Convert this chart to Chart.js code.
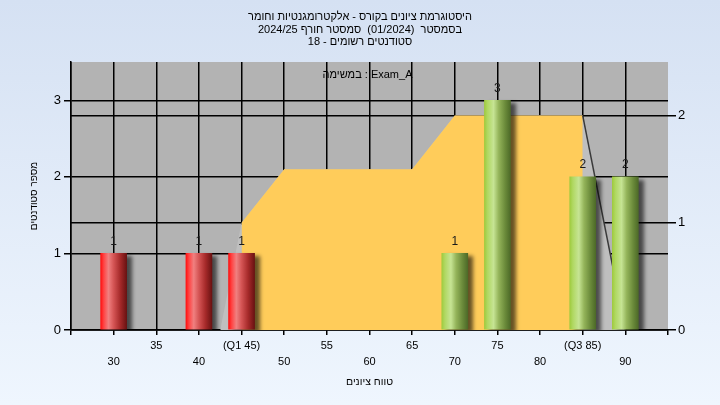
<!DOCTYPE html>
<html><head><meta charset="utf-8">
<script src="https://cdn.jsdelivr.net/npm/chart.js@4.4.1/dist/chart.umd.min.js"></script>
<style>html,body{margin:0;padding:0;background:#e2ebf8}canvas{display:block}</style>
</head><body>
<canvas id="c" width="720" height="405"></canvas>
<script>
const titleLines = [
  'היסטוגרמת ציונים בקורס - אלקטרומגנטיות וחומר',
  'בסמסטר  (01/2024)  סמסטר חורף 2024/25',
  'סטודנטים רשומים - 18'
];
const taskLabel = 'במשימה : Exam_A';
const xAxisTitle = 'טווח ציונים';
const yAxisTitle = 'מספר סטודנטים';

const lowScores = [30, 40, 45];
const lowCounts = [1, 1, 1];
const highScores = [70, 75, 85, 90];
const highCounts = [1, 3, 2, 2];

const curveScores = [42.5, 45, 50, 65, 70, 85, 90];
const curveValues = [0, 1, 1.5, 1.5, 2, 2, 0];
const iqrScores = [45, 45, 50, 65, 70, 85, 85];
const iqrValues = [0, 1, 1.5, 1.5, 2, 2, 0];
const tailScores = [85, 90];
const tailValues = [2, 0];

const xTickValues = [30, 35, 40, 45, 50, 55, 60, 65, 70, 75, 80, 85, 90];
const xTickLabels = ['30', '35', '40', '(Q1 45)', '50', '55', '60', '65', '70', '75', '80', '(Q3 85)', '90'];
const leftTicks = [0, 1, 2, 3];
const rightTicks = [0, 1, 2];

const pts = (xs, ys) => xs.map((x, i) => ({x: x, y: ys[i]}));

const redStops = [[0,'#ff1010'],[0.12,'#ff4444'],[0.3,'#f08080'],[0.5,'#d45454'],[0.75,'#a62a2a'],[1,'#6a1212']];
const greenStops = [[0,'#9fcb3e'],[0.12,'#b0d862'],[0.35,'#c6e494'],[0.55,'#94b45a'],[0.8,'#6a8a3a'],[1,'#4d6a28']];

function cylinder(stops) {
  return function (c) {
    const chart = c.chart;
    if (!chart.chartArea || c.type !== 'data' || !chart.scales.x) return stops[2][1];
    const cx = chart.scales.x.getPixelForValue(c.raw.x);
    const g = chart.ctx.createLinearGradient(cx - 13, 0, cx + 13, 0);
    stops.forEach(s => g.addColorStop(s[0], s[1]));
    return g;
  };
}

const decor = {
  id: 'decor',
  beforeDraw(chart) {
    const ctx = chart.ctx, a = chart.chartArea;
    const g = ctx.createLinearGradient(0, 0, 0, chart.height);
    g.addColorStop(0, '#d5e1f3');
    g.addColorStop(1, '#eff6fe');
    ctx.save();
    ctx.fillStyle = g;
    ctx.fillRect(0, 0, chart.width, chart.height);
    ctx.fillStyle = '#b3b3b3';
    ctx.fillRect(a.left, a.top, a.right - a.left, a.bottom - a.top);
    ctx.restore();
  },
  beforeDatasetDraw(chart, args) {
    if (args.meta.type === 'bar') {
      const ctx = chart.ctx;
      ctx.save();
      ctx.shadowColor = 'rgba(0,0,0,0.6)';
      ctx.shadowBlur = 4;
      ctx.shadowOffsetX = 5;
      ctx.shadowOffsetY = 3;
    }
  },
  afterDatasetDraw(chart, args) {
    if (args.meta.type === 'bar') chart.ctx.restore();
  },
  afterDatasetsDraw(chart) {
    const ctx = chart.ctx, a = chart.chartArea;
    ctx.save();
    ctx.font = '12px "Liberation Sans", Arial, sans-serif';
    ctx.fillStyle = '#1a1a1a';
    ctx.textAlign = 'center';
    ctx.textBaseline = 'middle';
    chart.data.datasets.forEach((ds, di) => {
      const meta = chart.getDatasetMeta(di);
      if (meta.type !== 'bar') return;
      meta.data.forEach((el, i) => {
        ctx.fillText(String(ds.data[i].y), el.x, el.y - 12);
      });
    });
    ctx.font = '11px "Liberation Sans", Arial, sans-serif';
    ctx.fillStyle = '#000';
    ctx.fillText(taskLabel, (a.left + a.right) / 2 - 2, a.top + 13);
    ctx.restore();
  }
};

Chart.defaults.font.family = '"Liberation Sans", Arial, sans-serif';
Chart.defaults.color = '#000';

new Chart(document.getElementById('c'), {
  type: 'bar',
  data: {
    datasets: [
      {type: 'bar', data: pts(lowScores, lowCounts), backgroundColor: cylinder(redStops), borderWidth: 0,
       grouped: false, barThickness: 26, order: 0, yAxisID: 'y'},
      {type: 'bar', data: pts(highScores, highCounts), backgroundColor: cylinder(greenStops), borderWidth: 0,
       grouped: false, barThickness: 26, order: 0, yAxisID: 'y'},
      {type: 'line', data: pts(tailScores, tailValues), borderColor: '#3a3a3a', borderWidth: 1.5,
       pointRadius: 0, fill: false, tension: 0, order: 1, yAxisID: 'y2'},
      {type: 'line', data: pts(iqrScores, iqrValues), borderColor: 'rgba(0,0,0,0)', borderWidth: 0,
       backgroundColor: '#ffcc5a', pointRadius: 0, fill: 'origin', tension: 0, order: 2, yAxisID: 'y2'},
      {type: 'line', data: pts(curveScores, curveValues), borderColor: 'rgba(0,0,0,0)', borderWidth: 0,
       backgroundColor: '#bfbfbf', pointRadius: 0, fill: 'origin', tension: 0, order: 3, yAxisID: 'y2'}
    ]
  },
  options: {
    responsive: false,
    animation: false,
    devicePixelRatio: 1,
    layout: {padding: 0},
    plugins: {
      legend: {display: false},
      tooltip: {enabled: false},
      title: {
        display: true, text: titleLines, color: '#000',
        font: {size: 11, weight: 'normal', lineHeight: '12.5px'},
        padding: {top: 11, bottom: 13.5}
      }
    },
    scales: {
      x: {
        type: 'linear', min: 25, max: 95, offset: false,
        ticks: {
          stepSize: 5, autoSkip: false, maxRotation: 0, minRotation: 0, padding: 3, color: '#000',
          font: {size: 11, lineHeight: '16px'},
          callback: function (v) {
            const i = xTickValues.indexOf(v);
            if (i < 0) return '';
            return v % 10 === 0 ? ['', xTickLabels[i]] : [xTickLabels[i], ''];
          }
        },
        grid: {
          color: c => (c.tick && c.tick.value === 95) ? 'rgba(0,0,0,0)' : '#000',
          lineWidth: 1.5, tickLength: 5, tickColor: '#000', offset: false
        },
        border: {color: '#000', width: 1.5},
        title: {display: true, text: xAxisTitle, color: '#000', font: {size: 10.5}, padding: {top: 0, bottom: 17}},
        afterFit: s => { s.height = 75; }
      },
      y: {
        position: 'left', min: 0, max: 3.5,
        afterBuildTicks: s => { s.ticks = leftTicks.map(v => ({value: v})); },
        ticks: {color: '#000', font: {size: 13}, padding: 3},
        grid: {color: '#000', lineWidth: 1.5, tickLength: 7, tickColor: '#000'},
        border: {color: '#000', width: 1.5},
        title: {display: true, text: yAxisTitle, color: '#000', font: {size: 10}, padding: {top: 28, bottom: 0}},
        afterFit: s => { s.width = 71; }
      },
      y2: {
        position: 'right', min: 0, max: 2.5,
        afterBuildTicks: s => { s.ticks = rightTicks.map(v => ({value: v})); },
        ticks: {color: '#000', font: {size: 13}, padding: 2},
        grid: {color: '#000', lineWidth: 1.5, tickLength: 8, tickColor: '#000', drawOnChartArea: true},
        border: {display: false},
        afterFit: s => { s.width = 52; }
      }
    }
  },
  plugins: [decor]
});
</script>
</body></html>
